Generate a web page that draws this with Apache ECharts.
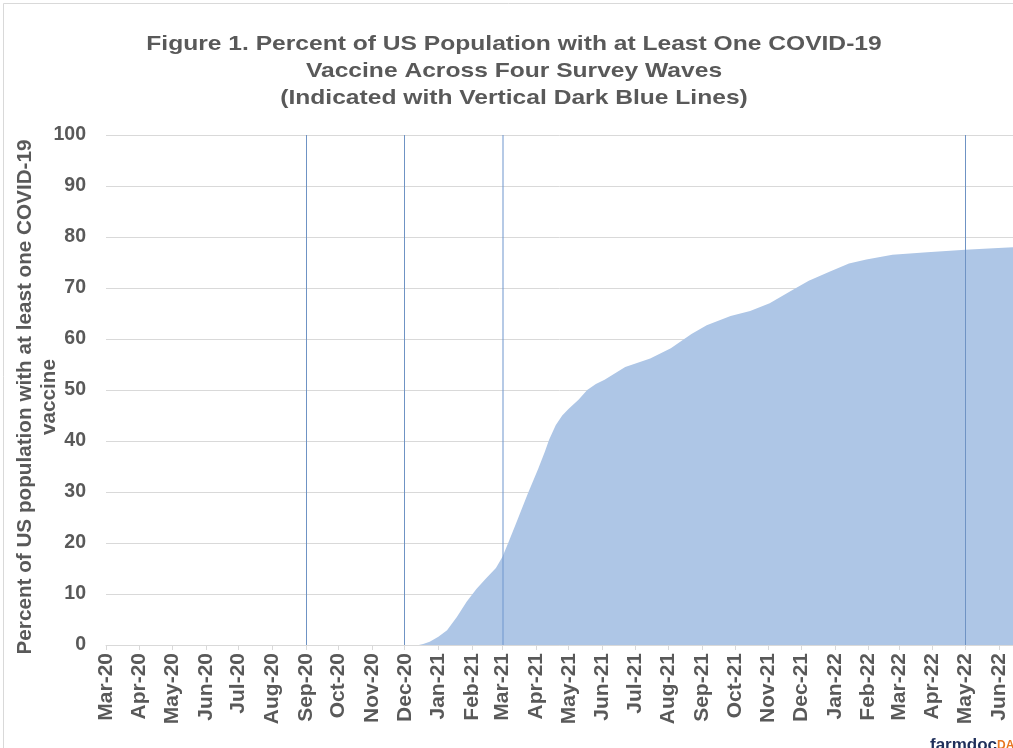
<!DOCTYPE html>
<html>
<head>
<meta charset="utf-8">
<script src="https://cdn.jsdelivr.net/npm/echarts@6/dist/echarts.min.js"></script>
<style>
html,body{margin:0;padding:0;background:#fff;}
#chart{width:1013px;height:748px;}
</style>
</head>
<body>
<div id="chart"></div>
<script>
// ---- data ----
const titleText = 'Figure 1. Percent of US Population with at Least One COVID-19\nVaccine Across Four Survey Waves\n(Indicated with Vertical Dark Blue Lines)';
const yAxisName = 'Percent of US population with at least one COVID-19\nvaccine';
const monthLabels = ['Mar-20','Apr-20','May-20','Jun-20','Jul-20','Aug-20','Sep-20','Oct-20','Nov-20','Dec-20',
  'Jan-21','Feb-21','Mar-21','Apr-21','May-21','Jun-21','Jul-21','Aug-21','Sep-21','Oct-21','Nov-21','Dec-21',
  'Jan-22','Feb-22','Mar-22','Apr-22','May-22','Jun-22'];
const dates = ['2020-12-14','2020-12-18','2020-12-24','2021-01-01','2021-01-09','2021-01-18','2021-01-27',
  '2021-02-05','2021-02-14','2021-02-23','2021-03-01','2021-03-07','2021-03-13','2021-03-24','2021-04-03',
  '2021-04-09','2021-04-13','2021-04-19','2021-04-25','2021-05-01','2021-05-10','2021-05-18','2021-05-26','2021-06-03','2021-06-22',
  '2021-07-15','2021-08-03','2021-08-22','2021-09-05','2021-09-27','2021-10-15','2021-11-02','2021-11-23',
  '2021-12-08','2021-12-27','2022-01-14','2022-01-30','2022-02-23','2022-03-27','2022-05-01','2022-05-27','2022-06-14'];
const pctVaccinated = [0,0.2,0.65,1.6,2.9,5.5,8.5,11.0,13.1,15.1,17.3,20.4,23.6,29.5,34.6,
  37.9,40.3,43.1,45.0,46.3,48.1,50.0,51.2,52.0,54.5,
  56.2,58.2,61.0,62.7,64.5,65.5,67.0,69.6,71.4,73.2,74.8,75.6,76.5,77.0,77.5,77.8,78.0];
const surveyWaves = ['2020-09-01','2020-12-01','2021-03-01','2022-05-01'];
const yTicks = {min:0, max:100, interval:10};
const xRange = {min:'2020-03-01', max:'2022-06-14'};

// ---- build ----
const monNames = ['Jan','Feb','Mar','Apr','May','Jun','Jul','Aug','Sep','Oct','Nov','Dec'];
function labelToTime(l){
  const [m, yy] = l.split('-');
  return Date.UTC(2000 + (+yy), monNames.indexOf(m), 1);
}
function parseDate(s){ const [y,m,d] = s.split('-').map(Number); return Date.UTC(y, m-1, d); }
const tickTimes = monthLabels.map(labelToTime);
const labelByTime = {};
tickTimes.forEach((t,i)=>{ labelByTime[t] = monthLabels[i]; });

const seriesData = dates.map((d,i)=>[parseDate(d), pctVaccinated[i]]);
const textColor = '#595959';
const font = 'Liberation Sans, Arial, sans-serif';

const chart = echarts.init(document.getElementById('chart'), null, {renderer:'canvas'});
chart.setOption({
  backgroundColor:'#ffffff',
  animation:false,
  grid:{left:106, right:0, top:135, bottom:103, containLabel:false},
  xAxis:{
    type:'value',
    min:parseDate(xRange.min), max:parseDate(xRange.max),
    axisLine:{show:true, lineStyle:{color:'#d9d9d9', width:1}},
    axisTick:{show:true, customValues:tickTimes, length:5, lineStyle:{color:'#d9d9d9'}},
    axisLabel:{
      customValues:tickTimes, rotate:90, margin:8,
      fontFamily:font, fontSize:21, fontWeight:'bold', color:textColor,
      formatter:(v)=>labelByTime[v] || ''
    },
    splitLine:{show:false}
  },
  yAxis:{
    type:'value', min:yTicks.min, max:yTicks.max, interval:yTicks.interval,
    axisLine:{show:false}, axisTick:{show:false},
    axisLabel:{fontFamily:font, fontSize:19.5, fontWeight:'bold', color:textColor, margin:20},
    splitLine:{lineStyle:{color:'#d9d9d9', width:1}}
  },
  series:[{
    type:'line',
    data:seriesData,
    showSymbol:false,
    smooth:false,
    lineStyle:{width:0, color:'#aec6e6'},
    areaStyle:{color:'#aec6e6', opacity:1},
    markLine:{
      silent:true, symbol:'none', label:{show:false},
      data:surveyWaves.map((d,i)=>({
        xAxis:parseDate(d),
        lineStyle: i===2 ? {color:'rgba(110,150,205,0.5)', width:2, type:'solid'} : {color:'#6f93c4', width:1, type:'solid'}
      }))
    }
  }],
  graphic:[
    {type:'rect', left:1, top:1, shape:{width:1040, height:780}, style:{fill:'none', stroke:'#d9d9d9', lineWidth:1}, silent:true},
    {type:'text', x:514, y:31, scaleX:1.2, originX:0,
      style:{text:titleText, align:'center', verticalAlign:'top',
        font:'bold 20.5px Liberation Sans, Arial, sans-serif', fill:textColor, lineHeight:27}},
    {type:'text', x:37, y:397, rotation:Math.PI/2,
      style:{text:yAxisName, align:'center', verticalAlign:'middle',
        font:'bold 20.7px Liberation Sans, Arial, sans-serif', fill:textColor, lineHeight:24}},
    {type:'text', x:930, y:737,
      style:{text:'{a|farmdoc}{b|DAILY}', rich:{
        a:{fontFamily:font, fontSize:17, fontWeight:'bold', fill:'#1f2f5a'},
        b:{fontFamily:font, fontSize:12, fontWeight:'bold', fill:'#e87722'}}}}
  ]
});
</script>
</body>
</html>
